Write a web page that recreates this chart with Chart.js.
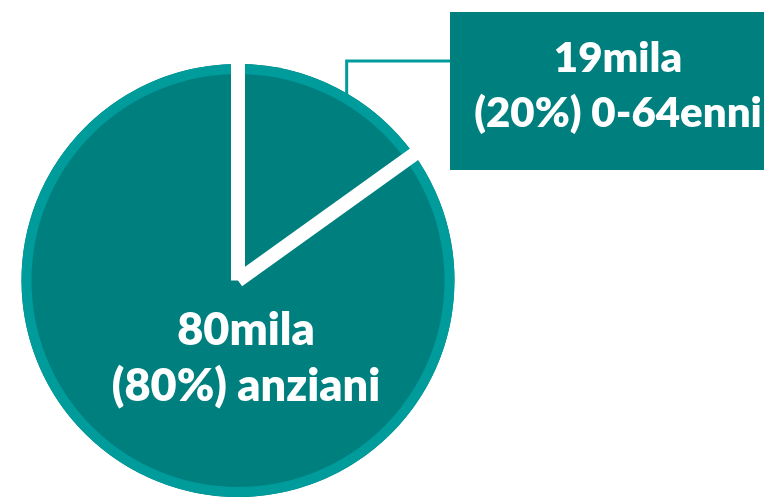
<!DOCTYPE html>
<html lang="it">
<head>
<meta charset="utf-8">
<title>Anziani e 0-64enni</title>
<script src="https://cdn.jsdelivr.net/npm/chart.js@4.4.1/dist/chart.umd.min.js"></script>
<style>
  html, body { margin: 0; padding: 0; background: #fff; }
  #wrap { position: relative; width: 764px; height: 497px; overflow: hidden; }
</style>
</head>
<body>
<div id="wrap"><canvas id="pie"></canvas></div>
<script>
// categorie e quote delle fette (angoli)
const categories = ['0-64enni', 'anziani'];
const sliceShare = [15.1, 84.9];
const countLabels = ['19mila', '80mila'];
const pctLabels = ['(20%) 0-64enni', '(80%) anziani'];

const TEAL = '#007f7f';
const TEAL_LIGHT = '#009b9b';

// anello chiaro, separatori bianchi, riquadro e etichette
const pieDecor = {
    id: 'pieDecor',
    afterDatasetsDraw(chart) {
        const ctx = chart.ctx;
        const arcs = chart.getDatasetMeta(0).data;
        const { x, y, outerRadius } = arcs[0];

        ctx.save();
        ctx.strokeStyle = TEAL_LIGHT;
        ctx.lineWidth = 10;
        ctx.beginPath();
        ctx.arc(x, y, outerRadius - 5, 0, Math.PI * 2);
        ctx.stroke();

        ctx.strokeStyle = '#fff';
        ctx.lineWidth = 14;
        ctx.lineCap = 'butt';
        arcs.forEach(a => {
            ctx.beginPath();
            ctx.moveTo(x, y);
            ctx.lineTo(x + Math.cos(a.startAngle) * (outerRadius + 4),
                       y + Math.sin(a.startAngle) * (outerRadius + 4));
            ctx.stroke();
        });

        // callout for the small slice
        const small = arcs[0];
        const ang = small.startAngle + (small.endAngle - small.startAngle) * 0.56;
        const sx = x + Math.cos(ang) * (outerRadius - 2);
        const sy = y + Math.sin(ang) * (outerRadius - 2);
        const box = { left: 450, top: 12, width: 330, height: 158 };
        ctx.strokeStyle = TEAL_LIGHT;
        ctx.lineWidth = 3;
        ctx.beginPath();
        ctx.moveTo(sx, sy);
        ctx.lineTo(sx, 61);
        ctx.lineTo(box.left, 61);
        ctx.stroke();

        ctx.fillStyle = TEAL;
        ctx.fillRect(box.left, box.top, box.width, box.height);

        ctx.fillStyle = '#fff';
        ctx.textAlign = 'center';
        ctx.textBaseline = 'alphabetic';
        ctx.font = '800 42px Lato';
        ctx.fillText(countLabels[0], 618, 72);
        ctx.fillText(pctLabels[0], 618, 127);

        ctx.font = '800 45px Lato';
        ctx.fillText(countLabels[1], x + 8, y + 64);
        ctx.fillText(pctLabels[1], x + 8, y + 120);
        ctx.restore();
    }
};

new Chart(document.getElementById('pie'), {
    type: 'pie',
    data: {
        labels: categories,
        datasets: [{
            data: sliceShare,
            backgroundColor: TEAL,
            borderWidth: 0
        }]
    },
    options: {
        responsive: true,
        maintainAspectRatio: false,
        animation: false,
        layout: {
            padding: { left: 21, right: 309, top: 64, bottom: 0 }
        },
        plugins: {
            legend: { display: false },
            tooltip: { enabled: false }
        }
    },
    plugins: [pieDecor]
});
</script>
</body>
</html>
